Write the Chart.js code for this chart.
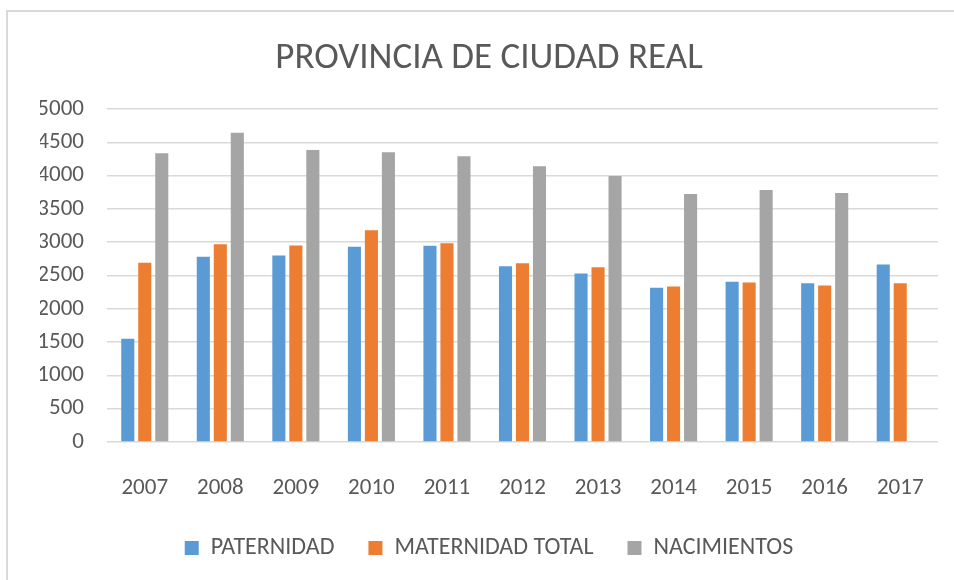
<!DOCTYPE html>
<html>
<head>
<meta charset="utf-8">
<script src="https://cdn.jsdelivr.net/npm/chart.js@4"></script>
<style>
    body { margin: 0; background: #ffffff; }
    #marco {
        position: absolute;
        left: 6px;
        top: 10px;
        width: 948px;
        height: 570px;
        border-left: 2px solid #d9d9d9;
        border-top: 2px solid #d9d9d9;
        box-sizing: border-box;
    }
    #grafico { position: absolute; left: 0; top: 0; }
</style>
</head>
<body>
<div id="marco"></div>
<canvas id="grafico" width="954" height="580"></canvas>
<script>
// años y series
const anios = ['2007', '2008', '2009', '2010', '2011', '2012', '2013', '2014', '2015', '2016', '2017'];
const paternidad = [1550, 2780, 2800, 2930, 2945, 2640, 2530, 2315, 2405, 2385, 2665];
const maternidadTotal = [2690, 2970, 2950, 3180, 2985, 2685, 2625, 2335, 2395, 2350, 2385];
const nacimientos = [4335, 4645, 4385, 4350, 4290, 4140, 3995, 3725, 3785, 3740, null];
const ticksY = [0, 500, 1000, 1500, 2000, 2500, 3000, 3500, 4000, 4500, 5000];

const fuente = 'Carlito, Lato, sans-serif';
const gris = '#595959';

const serie = (label, data, color) => ({
    label,
    data,
    backgroundColor: color,
    borderWidth: 0,
    categoryPercentage: 0.675,
    barPercentage: 0.77
});

new Chart(document.getElementById('grafico'), {
    type: 'bar',
    data: {
        labels: anios,
        datasets: [
            serie('PATERNIDAD', paternidad, '#5b9bd5'),
            serie('MATERNIDAD TOTAL', maternidadTotal, '#ed7d31'),
            serie('NACIMIENTOS', nacimientos, '#a5a5a5')
        ]
    },
    options: {
        responsive: false,
        animation: false,
        // el título y la leyenda van centrados algo a la derecha
        layout: { padding: { top: 37, right: 16, bottom: 10, left: 40 } },
        plugins: {
            title: {
                display: true,
                text: 'PROVINCIA DE CIUDAD REAL',
                color: gris,
                font: { family: fuente, size: 37, weight: 'normal' },
                padding: { top: 0, bottom: 27.6 }
            },
            legend: {
                position: 'bottom',
                labels: {
                    color: gris,
                    font: { family: fuente, size: 24 },
                    boxWidth: 14,
                    boxHeight: 14,
                    padding: 34
                }
            },
            tooltip: { enabled: false }
        },
        scales: {
            x: {
                grid: { display: false },
                border: { display: false },
                ticks: {
                    color: gris,
                    font: { family: fuente, size: 23 },
                    padding: 24,
                    maxRotation: 0,
                    autoSkip: false
                },
                afterFit: (escala) => { escala.height = 60; }
            },
            y: {
                min: 0,
                max: 5000,
                afterBuildTicks: (escala) => {
                    escala.ticks = ticksY.map((v) => ({ value: v }));
                },
                grid: { color: '#d9d9d9', lineWidth: 1.5, drawTicks: false },
                border: { display: false },
                ticks: {
                    color: gris,
                    font: { family: fuente, size: 23 },
                    padding: 23,
                    callback: (v) => String(v)
                },
                afterFit: (escala) => { escala.width = 67; }
            }
        }
    }
});
</script>
</body>
</html>
